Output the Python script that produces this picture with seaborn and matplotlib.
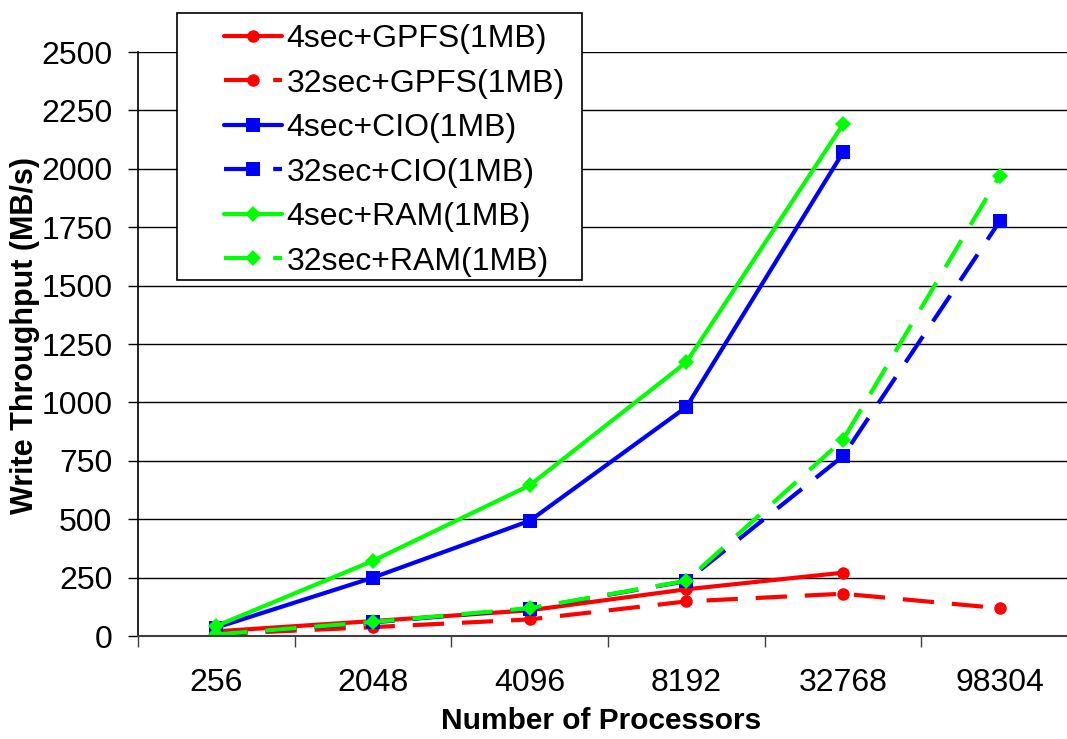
import numpy as np
import matplotlib
matplotlib.use("Agg")
import matplotlib.pyplot as plt
import seaborn as sns
from matplotlib.patches import Rectangle
from matplotlib.ticker import FixedLocator

# Processor counts (categorical x axis)
processors = ["256", "2048", "4096", "8192", "32768", "98304"]

# Write throughput in MB/s for each configuration
gpfs_4sec = [20, 64, 110, 200, 271, np.nan]
gpfs_32sec = [8, 38, 71, 148, 181, 119]
cio_4sec = [36, 250, 493, 980, 2070, np.nan]
cio_32sec = [7, 58, 117, 235, 770, 1775]
ram_4sec = [43, 322, 645, 1172, 2190, np.nan]
ram_32sec = [7, 60, 119, 236, 840, 1970]

labels = ["4sec+GPFS(1MB)", "32sec+GPFS(1MB)", "4sec+CIO(1MB)",
          "32sec+CIO(1MB)", "4sec+RAM(1MB)", "32sec+RAM(1MB)"]

sns.set_theme(style="white")
plt.rcParams["font.family"] = ["Liberation Sans", "DejaVu Sans"]
plt.rcParams["text.color"] = "black"
plt.rcParams["axes.labelcolor"] = "black"
plt.rcParams["xtick.color"] = "black"
plt.rcParams["ytick.color"] = "black"

fig = plt.figure(figsize=(10.67, 7.39), dpi=100)
ax = fig.add_axes([138 / 1067, 103 / 739, 940 / 1067, 584 / 739])

pos = np.arange(len(processors))
dash = (0, (7.5, 4.3))
series = [
    (gpfs_4sec, "#ff0000", "o", "-", 9),
    (gpfs_32sec, "#ff0000", "o", dash, 9),
    (cio_4sec, "#0000ff", "s", "-", 10),
    (cio_32sec, "#0000ff", "s", dash, 10),
    (ram_4sec, "#00ff00", "D", "-", 8),
    (ram_32sec, "#00ff00", "D", dash, 8),
]

handles = []
for (vals, color, marker, ls, ms), lab in zip(series, labels):
    sns.lineplot(x=pos, y=vals, ax=ax, color=color, marker=marker,
                 linestyle=ls, linewidth=3, markersize=ms,
                 markeredgewidth=0, estimator=None, errorbar=None,
                 sort=False, label=lab, legend=False)
    handles.append(ax.lines[-1])

ax.set_xlim(-0.5, 5.5)
ax.set_ylim(0, 2500)
ax.set_yticks(np.arange(0, 2501, 250))
ax.set_xticks(pos)
ax.set_xticklabels(processors)
ax.xaxis.set_minor_locator(FixedLocator(np.arange(-0.5, 5.6, 1)))

ax.grid(axis="y", color="black", linewidth=1.0)
ax.grid(axis="x", visible=False)
ax.set_axisbelow(True)

for s in ["top", "right"]:
    ax.spines[s].set_visible(False)
ax.spines["left"].set_color("black")
ax.spines["bottom"].set_color("#404040")
ax.spines["left"].set_linewidth(1.2)
ax.spines["bottom"].set_linewidth(1.5)

ax.tick_params(axis="y", which="major", direction="out", length=7.5,
               width=1, color="black", labelsize=23, pad=11, left=True)
ax.tick_params(axis="x", which="major", length=0, labelsize=23, pad=23)
ax.tick_params(axis="x", which="minor", direction="out", length=8,
               width=1, color="#404040", bottom=True)

ax.set_xlabel("Number of Processors", fontsize=21.5, fontweight="bold")
ax.set_ylabel("Write Throughput (MB/s)", fontsize=22, fontweight="bold")
ax.xaxis.set_label_coords(0.4926, -0.121)
ax.yaxis.set_label_coords(-0.104, 0.515)

# Legend frame drawn as a figure patch, entries on top of it
fig.patches.append(Rectangle((177 / 1067, 1 - 280 / 739), 405 / 1067,
                             267 / 739, transform=fig.transFigure,
                             facecolor="white", edgecolor="black",
                             linewidth=1.2, zorder=3))
leg = fig.legend(handles, labels, loc="upper left",
                 bbox_to_anchor=(224 / 1067, 1 - 24 / 739),
                 frameon=False, borderpad=0, borderaxespad=0,
                 handlelength=1.8, handletextpad=0.15, labelspacing=0.455,
                 fontsize=23)
leg.set_zorder(5)

fig.savefig("out.png", dpi=100)
